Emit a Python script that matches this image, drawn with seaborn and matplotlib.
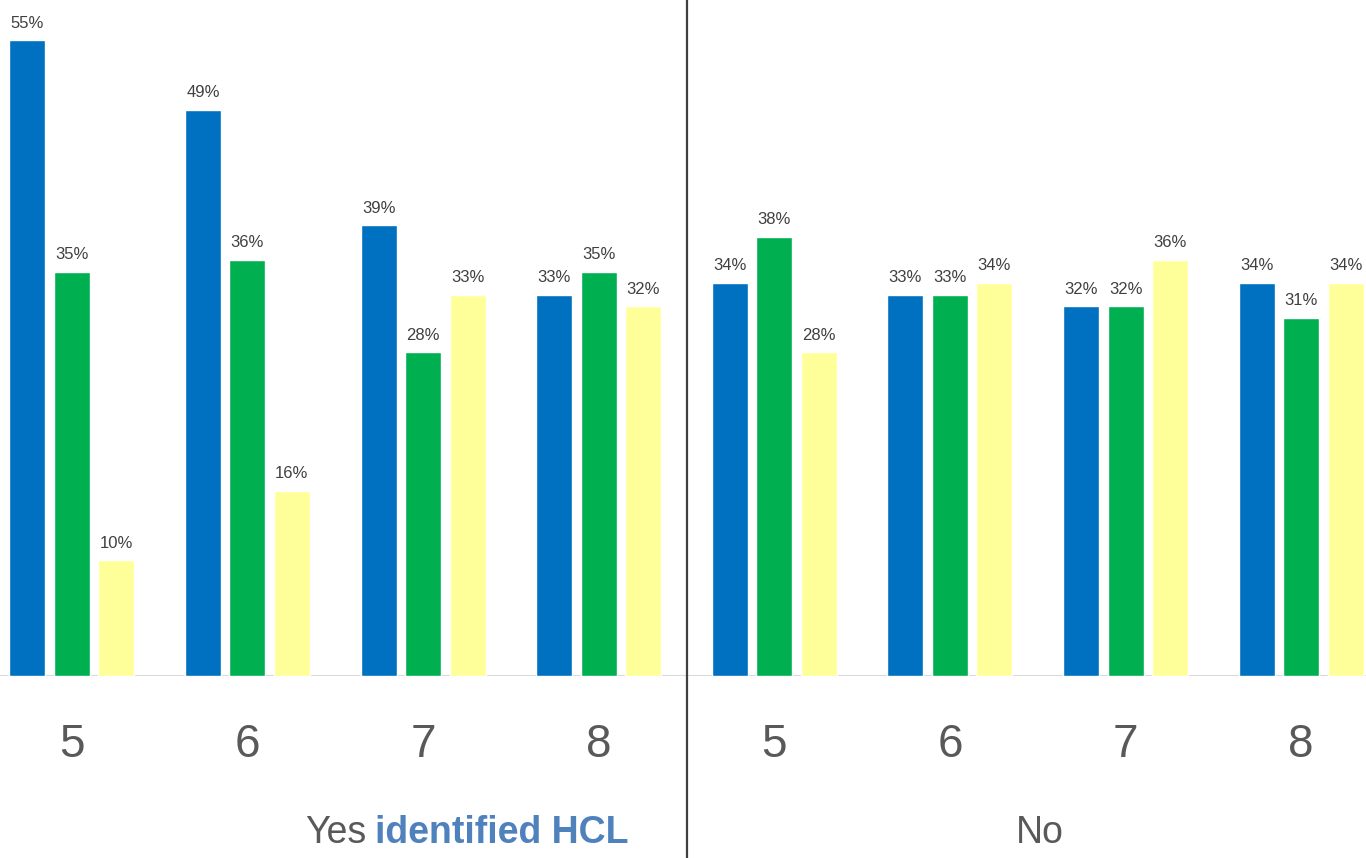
import matplotlib
matplotlib.use("Agg")
import matplotlib.pyplot as plt
from matplotlib import font_manager
import seaborn as sns
import pandas as pd

# Grade groups: first four answered "Yes identified HCL", last four "No"
group_keys = ["Yes-5", "Yes-6", "Yes-7", "Yes-8", "No-5", "No-6", "No-7", "No-8"]
grade_labels = ["5", "6", "7", "8", "5", "6", "7", "8"]
series_names = ["Series 1", "Series 2", "Series 3"]

series1 = [55, 49, 39, 33, 34, 33, 32, 34]
series2 = [35, 36, 28, 35, 38, 33, 32, 31]
series3 = [10, 16, 33, 32, 28, 34, 36, 34]

colors = ["#0070C0", "#00B050", "#FFFF99"]

rows = []
for name, vals in zip(series_names, [series1, series2, series3]):
    for key, v in zip(group_keys, vals):
        rows.append({"group": key, "series": name, "value": v})
df = pd.DataFrame(rows)

sns.set_theme(style="white")
available = {f.name for f in font_manager.fontManager.ttflist}
narrow = "Liberation Sans Narrow" if "Liberation Sans Narrow" in available else "Liberation Sans"
plt.rcParams["font.family"] = [narrow, "DejaVu Sans"]

fig = plt.figure(figsize=(13.66, 8.58), dpi=100)
ax_left = -16 / 1366
ax_width = 1405 / 1366
ax = fig.add_axes([ax_left, 182 / 858, ax_width, 676 / 858])

sns.barplot(data=df, x="group", y="value", hue="series", order=group_keys,
            hue_order=series_names, palette=colors, width=0.76, gap=0.19,
            saturation=1, ax=ax, legend=False)

for cont in ax.containers:
    ax.bar_label(cont, fmt="%d%%", padding=7, fontsize=12, color="#404040")

ax.set_ylim(0, 58.5)
ax.set_xlim(-0.5, len(group_keys) - 0.5)
ax.set_xlabel("")
ax.set_ylabel("")
ax.set_yticks([])
ax.set_xticks(range(len(group_keys)))
ax.set_xticklabels(grade_labels, fontsize=33, color="#595959")
ax.tick_params(axis="x", length=0, pad=34)
for s in ax.spines.values():
    s.set_visible(False)
ax.axhline(0, color="#D9D9D9", linewidth=2.2, zorder=0)

# Divider between the two answer groups, running to the bottom of the figure
ax.plot([3.5, 3.5], [-0.27, 1.0], transform=ax.get_xaxis_transform(),
        color="#3F3F3F", linewidth=1.6, clip_on=False)

fig.text(366 / 1366, 1 - 833 / 858, "Yes", ha="right", va="center",
         fontsize=27, color="#595959")
fig.text(375 / 1366, 1 - 833 / 858, "identified HCL", ha="left", va="center",
         fontsize=27, color="#4F81BD", fontweight="bold")
fig.text(1040 / 1366, 1 - 833 / 858, "No", ha="center", va="center",
         fontsize=27, color="#595959")

fig.savefig("out.png", dpi=100)
